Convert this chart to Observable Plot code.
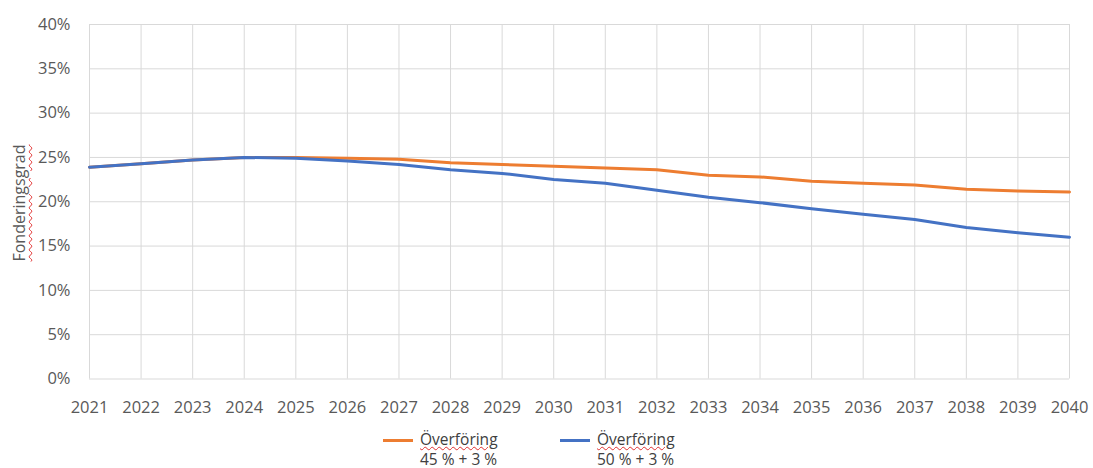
<!DOCTYPE html>
<html>
<head>
<meta charset="utf-8">
<script src="https://cdn.jsdelivr.net/npm/d3@7"></script>
<script src="https://cdn.jsdelivr.net/npm/@observablehq/plot@0.6"></script>
<style>
  html, body { margin: 0; padding: 0; background: #fff; }
  body { width: 1093px; height: 468px; position: relative; overflow: hidden; font-family: "Open Sans", "DejaVu Sans", sans-serif; }
  #chart { position: absolute; left: 0; top: 0; }
  .ylab { position: absolute; left: 19px; top: 203px; transform: translate(-50%, -50%) rotate(-90deg); font-size: 16px; color: #595959; white-space: nowrap; text-decoration: underline wavy #e03030; text-decoration-thickness: 1px; text-underline-offset: 3px; }
  .legend { position: absolute; top: 429px; font-size: 15.5px; color: #404040; }
  .legend .sw { position: absolute; left: 0; top: 10px; width: 30px; height: 3px; }
  .legend .l1, .legend .l2 { position: absolute; left: 37px; white-space: nowrap; line-height: 18px; height: 18px; }
  .legend .l1 { top: 1px; }
  .legend .l2 { top: 21px; }
  .sq { text-decoration: underline wavy #e03030; text-decoration-thickness: 1px; text-underline-offset: 1px; }
</style>
</head>
<body>
<div id="chart"></div>
<div class="ylab">Fonderingsgrad</div>
<div class="legend" style="left:383px"><div class="sw" style="background:#ED7D31"></div><div class="l1"><span class="sq">Överföring</span></div><div class="l2">45 % + 3 %</div></div>
<div class="legend" style="left:560px"><div class="sw" style="background:#4472C4"></div><div class="l1"><span class="sq">Överföring</span></div><div class="l2">50 % + 3 %</div></div>
<script>
const years = [2021,2022,2023,2024,2025,2026,2027,2028,2029,2030,2031,2032,2033,2034,2035,2036,2037,2038,2039,2040];
const series45 = [23.9,24.3,24.7,25.0,25.0,24.9,24.8,24.4,24.2,24.0,23.8,23.6,23.0,22.8,22.3,22.1,21.9,21.4,21.2,21.1];
const series50 = [23.9,24.3,24.7,25.0,24.9,24.6,24.2,23.6,23.2,22.5,22.1,21.3,20.5,19.9,19.2,18.6,18.0,17.1,16.5,16.0];
const seriesNames = ["Överföring 45 % + 3 %", "Överföring 50 % + 3 %"];
const seriesColors = ["#ED7D31", "#4472C4"];
const yTicks = [0,5,10,15,20,25,30,35,40];

const data = [];
years.forEach((y, i) => data.push({year: y, value: series45[i] / 100, s: seriesNames[0]}));
years.forEach((y, i) => data.push({year: y, value: series50[i] / 100, s: seriesNames[1]}));

const plot = Plot.plot({
  width: 1093,
  height: 425,
  marginLeft: 89,
  marginRight: 24,
  marginTop: 24,
  marginBottom: 46.5,
  style: {fontFamily: "'Open Sans', 'DejaVu Sans', sans-serif", fontSize: "16px", color: "#595959", background: "#fff"},
  x: {domain: [2021, 2040], label: null},
  y: {domain: [0, 0.40], label: null},
  color: {domain: seriesNames, range: seriesColors},
  marks: [
    Plot.gridX(years, {stroke: "#d9d9d9", strokeOpacity: 1}),
    Plot.gridY(yTicks.map(d => d / 100), {stroke: "#d9d9d9", strokeOpacity: 1}),
    Plot.axisX({ticks: years, tickFormat: d => String(d), tickSize: 0, tickPadding: 22, label: null, fill: "#595959", fontSize: 16.5}),
    Plot.axisY({ticks: yTicks.map(d => d / 100), tickFormat: d => Math.round(d * 100) + "%", tickSize: 0, tickPadding: 19, label: null, fill: "#595959", fontSize: 16.5}),
    Plot.line(data, {x: "year", y: "value", z: "s", stroke: "s", strokeWidth: 3, strokeLinejoin: "round", strokeLinecap: "round"})
  ]
});
document.getElementById("chart").appendChild(plot);
</script>
</body>
</html>
